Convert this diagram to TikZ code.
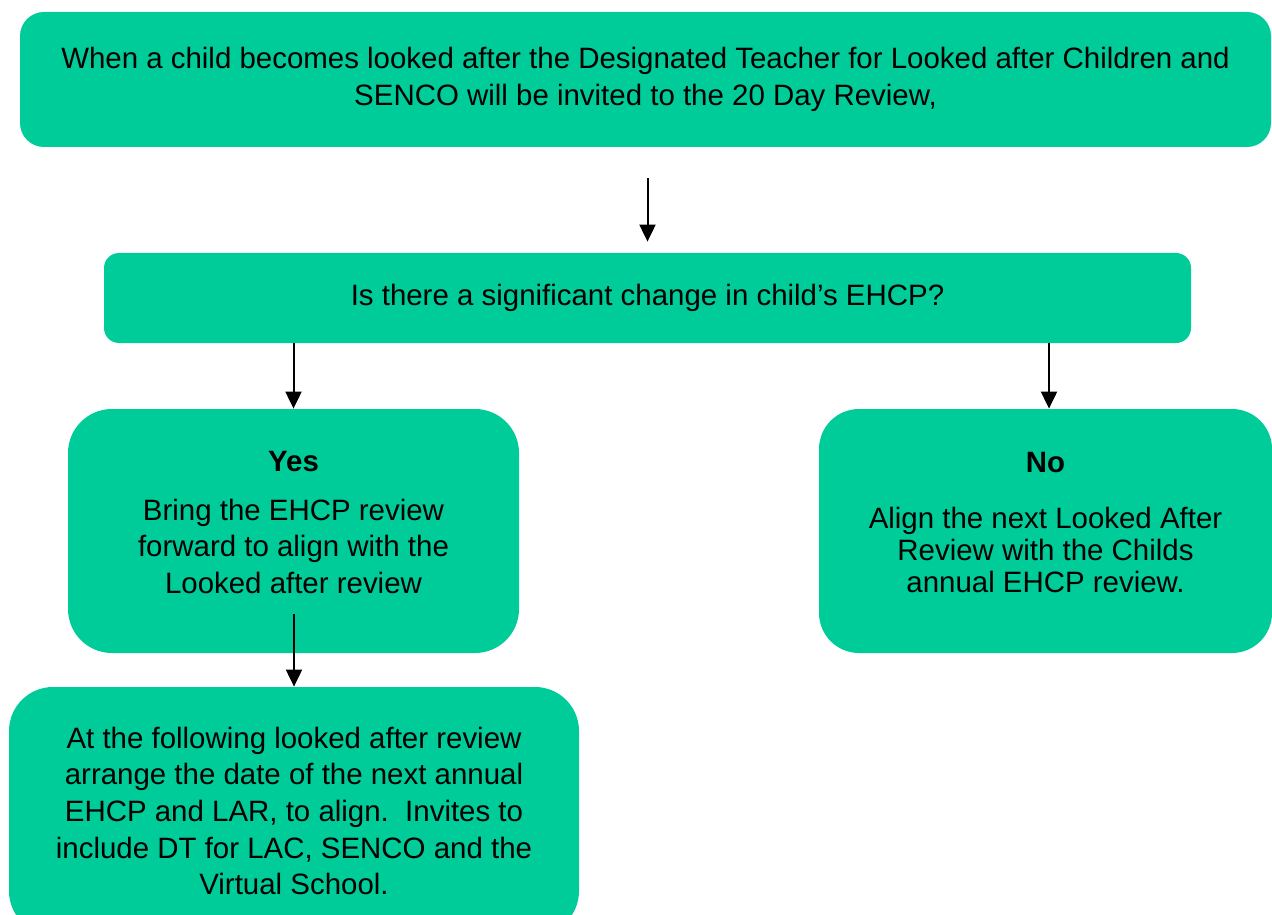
\documentclass[tikz,border=0pt]{standalone}
\usepackage{fontspec}
\setmainfont{Liberation Sans}
\usetikzlibrary{arrows.meta}
\definecolor{boxgreen}{RGB}{0,204,153}

\begin{document}
\begin{tikzpicture}[x=0.5pt, y=-0.5pt,
  box/.style={rectangle, fill=boxgreen, align=center, inner sep=0pt,
    font=\fontsize{14.72pt}{18.3pt}\selectfont},
  arr/.style={-{Triangle[width=8pt,length=8.5pt]}, line width=1pt}]
\useasboundingbox (0,0) rectangle (1272,914);
\node[box, minimum width=625.5pt, minimum height=67.5pt, rounded corners=12pt] at (645.5,79.5) (start) {When a child becomes looked after the Designated Teacher for Looked after Children and\\ SENCO will be invited to the 20 Day Review,};
\node[box, minimum width=543.5pt, minimum height=45pt, rounded corners=7.5pt] at (647.5,298) (change) {Is there a significant change in child’s EHCP?};
\node[box, minimum width=225.5pt, minimum height=122pt, rounded corners=22pt, text depth=9pt] at (293.5,531) (yes) {\textbf{Yes}\\[6.2pt] Bring the EHCP review\\ forward to align with the\\ Looked after review};
\node[box, minimum width=226.5pt, minimum height=122pt, rounded corners=20pt, text depth=9pt] at (1045.5,531) (no) {\textbf{No}\\[9.7pt] Align the next Looked After\\[-2.3pt] Review with the Childs\\[-2.3pt] annual EHCP review.};
\node[box, minimum width=285pt, minimum height=124pt, rounded corners=22pt] at (294,811) (follow) {At the following looked after review\\ arrange the date of the next annual\\ EHCP and LAR, to align.\ \ Invites to\\ include DT for LAC, SENCO and the\\ Virtual School.};

\draw[arr, shorten <=15.5pt, shorten >=5.5pt] (start.south -| change.north) -- (change.north);
\draw[arr] (change.south -| yes.north) -- (yes.north);
\draw[arr] ([xshift=1.75pt]change.south -| no.north) -- ([xshift=1.75pt]no.north);
\draw[arr, shorten <=-19.5pt] (yes.south -| follow.north) -- (follow.north);
\end{tikzpicture}
\end{document}
